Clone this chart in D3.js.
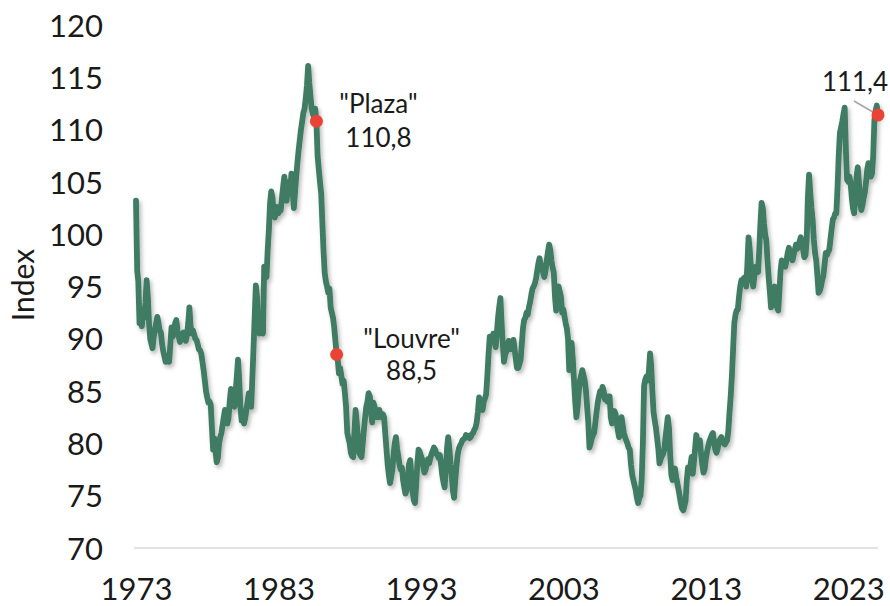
<!DOCTYPE html>
<html>
<head>
<meta charset="utf-8">
<script src="https://cdn.jsdelivr.net/npm/d3@7"></script>
<style>
  html, body { margin: 0; padding: 0; background: #ffffff; }
  svg { display: block; font-family: Lato, "Noto Sans", sans-serif; }
</style>
</head>
<body>
<svg id="chart" width="890" height="606"></svg>
<script>
// Monthly dollar index, first observation January 1973
const firstYear = 1973;
const firstMonth = 0; // January
const indexValues = [
  // 1973
  103.2, 96.5, 95.5, 91.5, 92.0, 91.2, 92.8, 92.0, 93.5, 95.6, 94.0, 91.5,
  // 1974
  90.0, 89.5, 89.1, 90.2, 90.8, 91.5, 92.1, 91.5, 90.8, 90.6, 89.5, 88.8,
  // 1975
  88.3, 87.8, 87.9, 88.0, 87.8, 89.5, 91.1, 90.2, 90.8, 91.5, 91.8, 90.8,
  // 1976
  90.2, 89.7, 90.0, 90.3, 90.6, 90.2, 89.8, 90.4, 91.5, 93.0, 91.2, 90.5,
  // 1977
  90.8, 90.4, 90.0, 89.9, 89.5, 89.0, 88.9, 88.6, 87.8, 87.0, 86.0, 85.0,
  // 1978
  84.4, 83.9, 84.0, 83.7, 81.5, 79.4, 80.5, 79.3, 78.2, 78.6, 80.0, 80.6,
  // 1979
  81.0, 81.8, 82.5, 83.2, 82.6, 81.9, 82.4, 84.0, 85.2, 84.5, 83.8, 83.5,
  // 1980
  85.0, 86.5, 88.0, 86.0, 83.5, 82.2, 82.5, 81.9, 82.4, 83.2, 84.0, 84.8,
  // 1981
  84.5, 83.5, 86.0, 89.0, 92.0, 95.1, 94.0, 91.0, 90.5, 91.2, 90.8, 90.5,
  // 1982
  96.9, 96.0, 95.9, 98.5, 100.4, 103.0, 104.1, 103.5, 102.0, 101.6, 102.2, 102.6,
  // 1983
  102.0, 102.3, 102.3, 103.5, 104.5, 105.5, 104.0, 103.2, 104.8, 105.0, 104.2, 105.8,
  // 1984
  104.0, 102.5, 104.0, 105.5, 106.8, 108.0, 109.0, 110.0, 110.8, 111.6, 112.0, 113.0,
  // 1985
  114.2, 116.1, 114.5, 113.2, 112.0, 111.5, 111.2, 112.0, 110.8, 107.5, 106.2, 105.0,
  // 1986
  103.9, 101.0, 98.5, 96.3, 95.5, 95.0, 94.4, 94.8, 93.0, 92.5, 92.0, 91.1,
  // 1987
  89.8, 88.5, 88.0, 86.7, 87.2, 86.5, 85.7, 86.0, 84.8, 83.5, 81.0, 80.5,
  // 1988
  80.0, 79.1, 78.8, 78.7, 81.0, 83.2, 82.0, 80.5, 79.1, 78.9, 78.7, 80.0,
  // 1989
  81.3, 82.5, 83.5, 84.0, 84.8, 84.5, 83.0, 82.0, 83.9, 83.5, 82.8, 82.5,
  // 1990
  82.5, 83.2, 82.8, 82.5, 82.8, 82.5, 81.0, 79.5, 78.0, 77.0, 76.2, 76.8,
  // 1991
  77.5, 79.0, 80.0, 80.6, 79.5, 78.8, 78.0, 77.5, 77.7, 76.5, 75.8, 75.2,
  // 1992
  75.5, 76.8, 78.0, 78.4, 77.0, 75.5, 74.6, 74.3, 76.0, 78.0, 79.4, 79.2,
  // 1993
  78.8, 78.5, 77.8, 77.2, 77.5, 78.0, 78.5, 78.1, 78.6, 79.0, 79.3, 79.6,
  // 1994
  79.4, 79.0, 78.9, 78.6, 78.9, 78.0, 77.0, 76.3, 75.8, 77.5, 79.5, 80.6,
  // 1995
  79.5, 78.0, 77.0, 75.5, 74.8, 76.5, 77.8, 78.9, 79.5, 79.8, 80.0, 80.3,
  // 1996
  80.4, 80.5, 80.8, 80.6, 80.7, 80.5, 80.6, 80.9, 81.0, 81.3, 81.5, 82.0,
  // 1997
  83.0, 84.4, 84.0, 83.5, 83.2, 84.0, 84.3, 84.7, 86.5, 88.5, 90.2, 90.0,
  // 1998
  89.8, 90.5, 89.8, 89.2, 90.5, 92.0, 93.0, 93.9, 91.5, 89.5, 87.8, 88.5,
  // 1999
  88.8, 89.3, 89.8, 89.5, 89.0, 89.4, 89.9, 89.0, 88.0, 87.2, 87.2, 87.6,
  // 2000
  88.0, 89.5, 91.0, 91.8, 92.0, 92.5, 92.3, 93.0, 93.5, 94.2, 94.8, 95.0,
  // 2001
  95.3, 95.8, 96.5, 97.2, 97.7, 97.0, 96.8, 96.3, 95.9, 96.5, 97.5, 98.3,
  // 2002
  99.0, 98.5, 97.5, 96.8, 96.3, 94.0, 92.7, 93.5, 95.0, 94.5, 94.0, 92.5,
  // 2003
  92.8, 92.1, 91.5, 91.0, 90.0, 87.0, 88.5, 89.6, 88.0, 86.0, 84.0, 82.5,
  // 2004
  83.5, 85.0, 86.0, 86.5, 87.0, 86.5, 86.0, 85.1, 83.5, 82.0, 79.6, 80.0,
  // 2005
  80.5, 80.8, 81.0, 82.0, 83.0, 83.9, 84.5, 85.0, 84.8, 85.4, 85.0, 84.2,
  // 2006
  84.2, 84.0, 84.5, 84.5, 82.5, 81.9, 82.5, 83.1, 82.8, 82.0, 81.2, 80.6,
  // 2007
  81.5, 82.5, 81.8, 81.0, 80.6, 80.3, 80.0, 79.6, 79.4, 78.0, 77.0, 76.5,
  // 2008
  76.0, 75.5, 74.8, 74.3, 74.8, 75.0, 76.5, 80.0, 85.5, 86.1, 86.4, 86.0,
  // 2009
  86.8, 88.6, 87.5, 85.0, 83.0, 82.2, 81.5, 80.5, 79.5, 78.1, 78.5, 78.8,
  // 2010
  79.0, 79.4, 80.5, 81.5, 82.5, 81.5, 79.0, 77.0, 76.5, 77.3, 77.6, 76.8,
  // 2011
  76.2, 75.6, 75.0, 74.3, 73.8, 73.6, 74.0, 74.5, 76.5, 77.7, 77.5, 77.8,
  // 2012
  78.7, 77.1, 78.2, 79.5, 80.8, 80.2, 79.7, 80.3, 79.0, 78.0, 77.2, 77.5,
  // 2013
  78.5, 79.2, 79.7, 80.2, 80.5, 80.8, 81.0, 80.0, 79.4, 79.1, 79.5, 80.2,
  // 2014
  80.4, 80.6, 80.2, 80.0, 79.9, 80.1, 80.3, 81.2, 83.0, 84.5, 86.5, 89.0,
  // 2015
  91.5, 92.3, 92.7, 92.8, 94.0, 95.0, 95.6, 95.5, 95.8, 95.9, 95.0, 97.0,
  // 2016
  99.7, 98.5, 96.9, 95.5, 95.0, 96.0, 96.9, 96.5, 96.4, 98.5, 101.0, 103.0,
  // 2017
  102.5, 101.0, 100.0, 99.4, 97.5, 95.8, 94.5, 93.0, 94.0, 94.5, 95.0, 94.0,
  // 2018
  93.0, 92.7, 94.5, 96.5, 97.5, 97.3, 97.0, 96.9, 97.5, 98.2, 98.7, 98.2,
  // 2019
  97.8, 97.5, 98.0, 98.5, 99.0, 98.6, 98.8, 99.3, 99.7, 99.2, 98.5, 97.8,
  // 2020
  98.0, 99.5, 103.5, 105.7, 104.0, 102.5, 101.4, 99.5, 98.2, 97.5, 96.0, 94.4,
  // 2021
  94.6, 95.0, 95.6, 96.0, 97.0, 98.2, 98.0, 98.3, 98.5, 99.5, 100.5, 101.4,
  // 2022
  101.6, 102.0, 102.0, 104.5, 107.5, 109.7, 110.2, 110.8, 111.5, 112.1, 108.0, 105.2,
  // 2023
  105.0, 105.5, 104.9, 103.5, 102.5, 102.0, 103.8, 105.5, 106.4, 105.0, 103.0, 102.3,
  // 2024
  102.8, 103.5, 104.0, 105.0, 106.2, 106.8, 106.2, 105.5, 105.8, 107.5, 110.9, 111.8,
  // 2025
  112.3, 111.4
];

const yTicks = [70, 75, 80, 85, 90, 95, 100, 105, 110, 115, 120];
const xTickYears = [1973, 1983, 1993, 2003, 2013, 2023];

// Highlighted observations: [year, month index] and their names
const highlightDates = [[1985, 8], [1987, 1], [2025, 1]];
const highlightNames = ['"Plaza"', '"Louvre"', ''];

const yTitle = "Index";

const data = indexValues.map((v, i) => ({
  date: new Date(firstYear, firstMonth + i, 1),
  value: v
}));

const fmt = d3.format(".1f");
const valueLabel = v => fmt(v).replace(".", ",");

const svg = d3.select("#chart");

const x = d3.scaleTime()
  .domain([data[0].date, data[data.length - 1].date])
  .range([136, 878]);

const y = d3.scaleLinear()
  .domain([70, 120])
  .range([548, 25]);

// drop shadow under the series line
const defs = svg.append("defs");
const filt = defs.append("filter")
  .attr("id", "lineShadow")
  .attr("x", "-5%").attr("y", "-5%")
  .attr("width", "110%").attr("height", "110%");
filt.append("feDropShadow")
  .attr("dx", 2).attr("dy", 3)
  .attr("stdDeviation", 2)
  .attr("flood-color", "#000")
  .attr("flood-opacity", 0.28);

// baseline at the bottom of the value range
svg.append("line")
  .attr("x1", 134).attr("x2", 878)
  .attr("y1", y(70)).attr("y2", y(70))
  .attr("stroke", "#d9d9d9")
  .attr("stroke-width", 1.5);

const tickFont = 31;

// y axis labels
const yAxis = d3.axisLeft(y)
  .tickValues(yTicks)
  .tickSize(0)
  .tickPadding(0)
  .tickFormat(d3.format("d"));
const gy = svg.append("g")
  .attr("transform", "translate(103,0)")
  .call(yAxis);
gy.select(".domain").remove();
gy.selectAll("text")
  .attr("font-family", "Lato, 'Noto Sans', sans-serif")
  .attr("font-size", tickFont)
  .attr("fill", "#1a1a1a")
  .attr("dy", "0.36em");

// x axis labels
const xAxis = d3.axisBottom(x)
  .tickValues(xTickYears.map(yr => new Date(yr, 0, 1)))
  .tickSize(0)
  .tickPadding(0)
  .tickFormat(d3.timeFormat("%Y"));
const gx = svg.append("g")
  .attr("transform", "translate(0,578)")
  .call(xAxis);
gx.select(".domain").remove();
gx.selectAll("text")
  .attr("font-family", "Lato, 'Noto Sans', sans-serif")
  .attr("font-size", tickFont)
  .attr("fill", "#1a1a1a")
  .attr("dy", 0)
  .attr("y", 22);

// axis title
svg.append("text")
  .attr("transform", "translate(34,285) rotate(-90)")
  .attr("text-anchor", "middle")
  .attr("font-size", 30)
  .attr("fill", "#1a1a1a")
  .text(yTitle);

// series line
const line = d3.line()
  .x(d => x(d.date))
  .y(d => y(d.value));

svg.append("path")
  .datum(data)
  .attr("d", line)
  .attr("fill", "none")
  .attr("stroke", "#407c63")
  .attr("stroke-width", 5.8)
  .attr("stroke-linejoin", "round")
  .attr("stroke-linecap", "round")
  .attr("filter", "url(#lineShadow)");

// highlighted points
const highlights = highlightDates.map(([yr, mo], k) => {
  const d = data.find(p => p.date.getFullYear() === yr && p.date.getMonth() === mo);
  return { date: d.date, value: d.value, name: highlightNames[k] };
});

// leader line for the latest observation
const last = highlights[2];
svg.append("line")
  .attr("x1", x(last.date) - 24).attr("y1", y(last.value) - 14)
  .attr("x2", x(last.date)).attr("y2", y(last.value))
  .attr("stroke", "#a6a6a6")
  .attr("stroke-width", 1.6);

svg.selectAll("circle.hl")
  .data(highlights)
  .join("circle")
  .attr("class", "hl")
  .attr("cx", d => x(d.date))
  .attr("cy", d => y(d.value))
  .attr("r", 6.5)
  .attr("fill", "#ea4335");

// annotation texts
const annoSize = 26;
const plaza = highlights[0];
const plazaText = svg.append("text")
  .attr("text-anchor", "middle")
  .attr("font-size", annoSize)
  .attr("fill", "#1a1a1a");
plazaText.append("tspan").attr("x", x(plaza.date) + 62).attr("y", y(plaza.value) - 8).text(plaza.name);
plazaText.append("tspan").attr("x", x(plaza.date) + 62).attr("y", y(plaza.value) + 26).text(valueLabel(plaza.value));

const louvre = highlights[1];
const louvreText = svg.append("text")
  .attr("text-anchor", "middle")
  .attr("font-size", annoSize)
  .attr("fill", "#1a1a1a");
louvreText.append("tspan").attr("x", x(louvre.date) + 75).attr("y", y(louvre.value) - 6).text(louvre.name);
louvreText.append("tspan").attr("x", x(louvre.date) + 75).attr("y", y(louvre.value) + 26).text(valueLabel(louvre.value));

svg.append("text")
  .attr("text-anchor", "middle")
  .attr("x", x(last.date) - 23)
  .attr("y", y(last.value) - 24)
  .attr("font-size", annoSize)
  .attr("fill", "#1a1a1a")
  .text(valueLabel(last.value));
</script>
</body>
</html>
